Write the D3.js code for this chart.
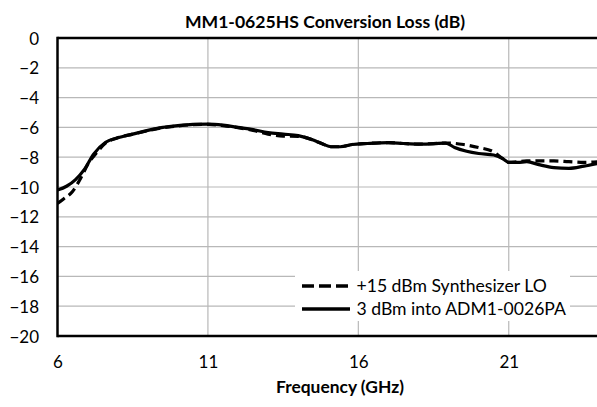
<!DOCTYPE html>
<html>
<head>
<meta charset="utf-8">
<script src="https://cdn.jsdelivr.net/npm/d3@7"></script>
<style>
  html, body { margin: 0; padding: 0; background: #fff; }
  svg { display: block; }
  text { font-family: Lato, "Liberation Sans", sans-serif; fill: #000; }
</style>
</head>
<body>
<svg id="chart" width="597" height="407"></svg>
<script>
// ---- data ----
const titleText = "MM1-0625HS Conversion Loss (dB)";
const xAxisTitle = "Frequency (GHz)";
const seriesNames = ["+15 dBm Synthesizer LO", "3 dBm into ADM1-0026PA"];
const xTicks = [6, 11, 16, 21];
const yTicks = [0, -2, -4, -6, -8, -10, -12, -14, -16, -18, -20];

const synthFreq = [6.0, 6.2, 6.5, 6.8, 7.0, 7.3, 7.6, 8.0, 8.5, 9.0, 9.5, 10.0, 10.5, 11.0, 11.5, 12.0, 12.5, 13.0, 13.5, 14.0, 14.5, 14.8, 15.1, 15.4, 15.8, 16.3, 17.0, 17.5, 18.0, 18.5, 19.0, 19.5, 20.0, 20.5, 20.8, 21.0, 21.3, 21.6, 22.0, 22.5, 23.0, 23.5, 24.0];
const synthLoss = [-11.1, -10.8, -10.3, -9.3, -8.5, -7.7, -7.05, -6.7, -6.45, -6.22, -6.02, -5.9, -5.82, -5.8, -5.88, -6.02, -6.2, -6.45, -6.58, -6.6, -6.85, -7.1, -7.3, -7.3, -7.15, -7.08, -7.02, -7.08, -7.12, -7.08, -7.05, -7.15, -7.35, -7.65, -8.1, -8.35, -8.3, -8.25, -8.25, -8.25, -8.3, -8.35, -8.3];

const admFreq = [6.0, 6.3, 6.6, 6.9, 7.2, 7.6, 8.0, 8.5, 9.0, 9.5, 10.0, 10.5, 11.0, 11.5, 12.0, 12.5, 13.0, 13.5, 14.0, 14.5, 14.8, 15.1, 15.4, 15.8, 16.3, 17.0, 17.5, 18.0, 18.5, 18.9, 19.2, 19.6, 20.0, 20.5, 20.8, 21.0, 21.3, 21.6, 22.0, 22.5, 23.0, 23.5, 24.0];
const admLoss = [-10.2, -9.95, -9.5, -8.8, -7.8, -7.0, -6.7, -6.45, -6.2, -6.0, -5.88, -5.8, -5.78, -5.85, -6.0, -6.15, -6.35, -6.45, -6.55, -6.85, -7.1, -7.3, -7.3, -7.15, -7.08, -7.02, -7.08, -7.12, -7.1, -7.05, -7.35, -7.6, -7.75, -7.85, -8.1, -8.35, -8.35, -8.3, -8.5, -8.7, -8.75, -8.6, -8.4];

// ---- layout ----
const svg = d3.select("#chart");
const mLeft = 57.5, mRight = 599, mTop = 38, mBottom = 336;

const x = d3.scaleLinear().domain([6, 24]).range([mLeft, mRight]);
const y = d3.scaleLinear().domain([-20, 0]).range([mBottom, mTop]);

const grid = svg.append("g");
grid.selectAll("line.h").data(yTicks.filter(d => d !== 0 && d !== -20)).enter()
  .append("line")
  .attr("x1", mLeft).attr("x2", mRight)
  .attr("y1", d => y(d)).attr("y2", d => y(d))
  .attr("stroke", "#b8b8b8").attr("stroke-width", 1.2);
grid.selectAll("line.v").data(xTicks.filter(d => d !== 6)).enter()
  .append("line")
  .attr("x1", d => x(d)).attr("x2", d => x(d))
  .attr("y1", mTop).attr("y2", mBottom)
  .attr("stroke", "#b8b8b8").attr("stroke-width", 1.2);

// Axes (labels via d3 axes)
const yAxis = d3.axisLeft(y).tickValues(yTicks).tickSize(0).tickPadding(0).tickFormat(d3.format("d"));
const gy = svg.append("g").attr("transform", `translate(39,0)`).call(yAxis);
gy.select(".domain").remove();
gy.selectAll("text").attr("font-size", 17).attr("font-family", "Lato").attr("fill", "#111").attr("dy", "0.36em").attr("x", 0);

const xAxis = d3.axisBottom(x).tickValues(xTicks).tickSize(0).tickPadding(0).tickFormat(d3.format("d"));
const gx = svg.append("g").attr("transform", `translate(0,${mBottom})`).call(xAxis);
gx.select(".domain").remove();
gx.selectAll("text").attr("font-size", 17).attr("font-family", "Lato").attr("fill", "#111").attr("y", 32).attr("dy", 0);

// Series
const lineGen = d3.line().x(d => x(d[0])).y(d => y(d[1])).curve(d3.curveMonotoneX);
const synthData = d3.zip(synthFreq, synthLoss);
const admData = d3.zip(admFreq, admLoss);

svg.append("clipPath").attr("id", "clip").append("rect")
  .attr("x", mLeft).attr("y", mTop - 5).attr("width", mRight - mLeft).attr("height", mBottom - mTop + 10);

const plot = svg.append("g").attr("clip-path", "url(#clip)");
plot.append("path").datum(synthData).attr("d", lineGen)
  .attr("fill", "none").attr("stroke", "#000").attr("stroke-width", 3.2)
  .attr("stroke-dasharray", "9,5");
plot.append("path").datum(admData).attr("d", lineGen)
  .attr("fill", "none").attr("stroke", "#000").attr("stroke-width", 3.2);

// Plot border
svg.append("line").attr("x1", mLeft).attr("x2", mRight).attr("y1", mTop).attr("y2", mTop)
  .attr("stroke", "#000").attr("stroke-width", 2.5);
svg.append("line").attr("x1", mLeft).attr("x2", mRight).attr("y1", mBottom).attr("y2", mBottom)
  .attr("stroke", "#000").attr("stroke-width", 2.5);
svg.append("line").attr("x1", mLeft).attr("x2", mLeft).attr("y1", mTop - 1.25).attr("y2", mBottom + 1.25)
  .attr("stroke", "#000").attr("stroke-width", 2.5);

// Legend
const lg = svg.append("g");
lg.append("rect").attr("x", 295).attr("y", 271).attr("width", 275).attr("height", 50).attr("fill", "#fff");
const legendRows = [
  { name: seriesNames[0], dash: "12,5", cy: 286 },
  { name: seriesNames[1], dash: null, cy: 309 }
];
legendRows.forEach(r => {
  lg.append("line").attr("x1", 302).attr("x2", 350).attr("y1", r.cy).attr("y2", r.cy)
    .attr("stroke", "#000").attr("stroke-width", 3.5)
    .attr("stroke-dasharray", r.dash);
  lg.append("text").attr("x", 356.5).attr("y", r.cy).attr("dy", "0.36em")
    .attr("font-size", 17.6).attr("fill", "#111").text(r.name);
});

// Titles
svg.append("text").attr("x", 325).attr("y", 28).attr("text-anchor", "middle")
  .attr("font-size", 17.6).attr("font-weight", "bold").attr("fill", "#111").text(titleText);
svg.append("text").attr("x", 340).attr("y", 393).attr("text-anchor", "middle")
  .attr("font-size", 17.4).attr("font-weight", "bold").attr("fill", "#111").text(xAxisTitle);
</script>
</body>
</html>
